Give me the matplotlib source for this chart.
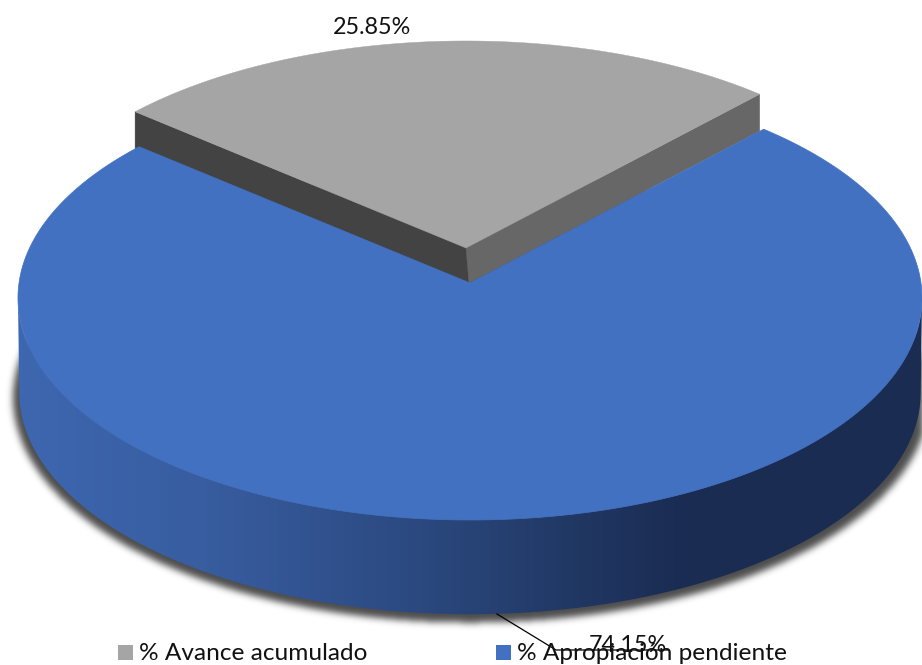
import numpy as np
import matplotlib
matplotlib.use('Agg')
import matplotlib.pyplot as plt
from matplotlib.path import Path
from matplotlib.patches import Polygon, Rectangle
from matplotlib.colors import LinearSegmentedColormap

plt.rcParams['font.family'] = ['Lato', 'DejaVu Sans']

labels = ['% Avance acumulado', '% Apropiación pendiente']
shares = [25.85, 74.15]
pct_labels = ['25.85%', '74.15%']
colors = ['#a5a5a5', '#4271c2']

W, H = 922, 665
START = 46.9   # angle where the grey slice begins
K, S, R = 0.0675, 221.0, 451.0
DEPTH = 95


def project(theta, cx, cy, r=1.0):
    # perspective view of the pie disc, theta in degrees
    t = np.radians(theta)
    u, v = r*np.cos(t), r*np.sin(t)
    d = 1 + K*v
    return np.column_stack([cx + R*u/d, cy - S*v/d])


def gauss_blur(a, sigma):
    x = np.arange(-int(3*sigma), int(3*sigma)+1)
    g = np.exp(-x**2/(2*sigma**2))
    g /= g.sum()
    a = np.apply_along_axis(lambda m: np.convolve(m, g, mode='same'), 0, a)
    return np.apply_along_axis(lambda m: np.convolve(m, g, mode='same'), 1, a)


fig = plt.figure(figsize=(W/100, H/100), dpi=100)
ax = fig.add_axes([0, 0, 1, 1])
ax.axis('off')

sweep = [s/sum(shares)*360 for s in shares]
a0, a1 = START, START + sweep[0]    # grey slice
CX, CY = 470, 283
GX, GY = 466, 248

# soft shadow under the pie
yy, xx = np.mgrid[0:H, 0:W]
circle = project(np.linspace(0, 360, 400), CX, CY + DEPTH + 4, 1.012)
mask = Path(circle).contains_points(np.column_stack([xx.ravel(), yy.ravel()])).reshape(H, W)
alpha = gauss_blur(mask.astype(float), 3.5)*0.7
rgba = np.zeros((H, W, 4))
rgba[..., 3] = alpha
ax.imshow(rgba, extent=(0, W, H, 0), zorder=1, interpolation='bilinear')

# side wall with horizontal gradient
th = np.linspace(184, 356, 300)
wall = np.vstack([project(th, CX, CY), project(th[::-1], CX, CY + DEPTH, 0.997)])
cmap = LinearSegmentedColormap.from_list('wall', [
    (0.0, (62/255, 104/255, 178/255)),
    (0.22, (56/255, 93/255, 160/255)),
    (0.44, (44/255, 74/255, 130/255)),
    (0.60, (34/255, 58/255, 103/255)),
    (0.74, (26/255, 44/255, 82/255)),
    (1.0, (26/255, 44/255, 81/255))])
im = ax.imshow(np.linspace(0, 1, 256)[None, :], cmap=cmap, aspect='auto',
               extent=(0, W, H, 0), zorder=2)
im.set_clip_path(Polygon(wall, transform=ax.transData))

# blue top
blue = np.vstack([[[CX, CY]], project(np.linspace(a1, a0 + 360, 400), CX, CY)])
ax.add_patch(Polygon(blue, closed=True, fc=colors[1], ec=colors[1], lw=0.5, zorder=3))

# grey slice, cut faces then top
gp = project(np.array([a0, a1]), GX, GY)
bp = project(np.array([a0, a1]), CX, CY)
apex_top = np.array([GX, GY])
apex_bot = np.array([CX - 1, CY])
ax.add_patch(Polygon([apex_top, gp[1], [gp[1][0], bp[1][1] + 2], apex_bot], fc='#434343', ec='#434343', lw=0.3, zorder=2.5))
ax.add_patch(Polygon([apex_top, gp[0], [gp[0][0], bp[0][1] + 2], apex_bot], fc='#676767', ec='#676767', lw=0.3, zorder=2.5))
grey = np.vstack([[apex_top], project(np.linspace(a0, a1, 200), GX, GY)])
ax.add_patch(Polygon(grey, closed=True, fc=colors[0], ec=colors[0], lw=0.3, zorder=5))

# data labels, leader line
ax.text(372, 28, pct_labels[0], fontsize=16.8, ha='center', va='center', color='#111111', zorder=6)
ax.plot([497, 556, 668], [614, 650, 650], color='black', lw=0.9, zorder=6)
ax.text(628, 646, pct_labels[1], fontsize=16.8, ha='center', va='center', color='#111111', zorder=7)

# legend
for x0, lab, col in zip([118, 496], labels, colors):
    ax.add_patch(Rectangle((x0, 645), 15, 15, fc=col, ec='none', zorder=6))
    ax.text(x0 + 21, 654, lab, fontsize=17.6, ha='left', va='center', color='#111111', zorder=7)

ax.set_xlim(0, W)
ax.set_ylim(H, 0)
fig.savefig('out.png', dpi=100, facecolor='white')
